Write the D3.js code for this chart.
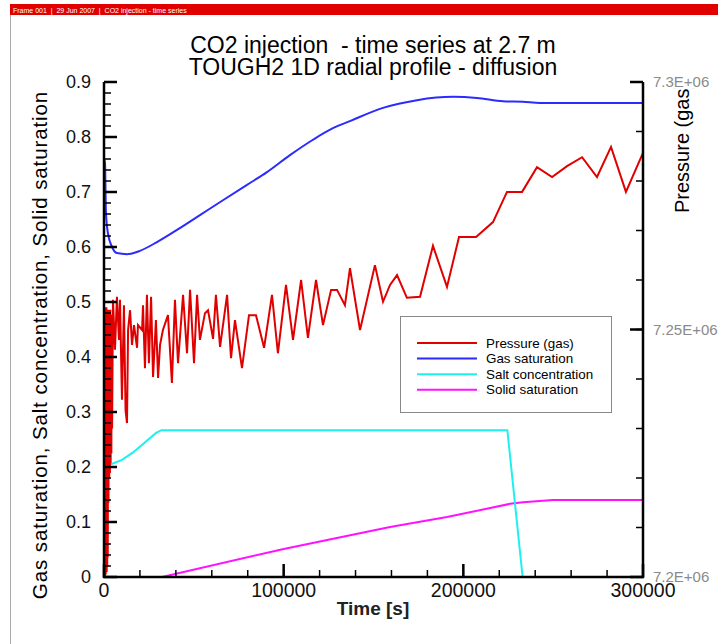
<!DOCTYPE html>
<html>
<head>
<meta charset="UTF-8">
<title>CO2 injection - time series</title>
<script src="https://cdn.jsdelivr.net/npm/d3@7"></script>
<style>
body{margin:0;background:#fff;}
text{font-family:"Liberation Sans",Arial,Helvetica,sans-serif;white-space:pre;}
</style>
</head>
<body>
<script>
// time [s] and pressure [Pa] of the gas phase (right axis)
var pressTime=[0,120,240,360,480,600,720,840,960,1080,1200,1350,1500,1650,1800,1950,2100,2300,2500,2700,2900,3100,3300,3500,3700,3900,4100,4300,4500,
  5000,6100,7200,8350,8900,10000,11100,12000,12800,13400,14500,15600,16700,18400,18900,21200,21700,22800,23900,25000,26200,27300,28900,30100,31200,32800,
  35600,37800,39500,41200,44000,46200,47900,50100,51800,53400,56200,57900,60700,62300,64600,68500,70700,72900,76800,80700,84600,89100,93500,96800,
  101300,105200,109700,113500,118000,121900,126400,129700,134100,136900,142500,150800,155300,159200,163100,168600,175900,183100,190900,197600,
  207100,216500,224300,232700,241000,249400,257700,266100,274400,282200,290500,300000];
var pressVal=[7.2000e6,7.2540e6,7.2000e6,7.2545e6,7.2000e6,7.2540e6,7.2005e6,7.2545e6,7.2005e6,7.2540e6,7.2010e6,7.2545e6,7.2010e6,7.2540e6,7.2020e6,7.2540e6,7.2040e6,7.2535e6,7.2150e6,7.2540e6,7.2200e6,7.2530e6,7.2210e6,7.2540e6,7.2230e6,7.2530e6,7.2250e6,7.2520e6,7.2300e6,
  7.2560e6,7.2459e6,7.2566e6,7.2479e6,7.2560e6,7.2358e6,7.2549e6,7.2337e6,7.2311e6,7.2499e6,7.2539e6,7.2469e6,7.2509e6,7.2463e6,7.2509e6,7.2499e6,7.2549e6,7.2422e6,7.2570e6,7.2432e6,7.2566e6,7.2404e6,7.2519e6,7.2402e6,7.2469e6,7.2499e6,
  7.2529e6,7.2392e6,7.2560e6,7.2432e6,7.2570e6,7.2452e6,7.2580e6,7.2432e6,7.2570e6,7.2479e6,7.2533e6,7.2539e6,7.2481e6,7.2570e6,7.2465e6,7.2570e6,7.2442e6,7.2519e6,7.2422e6,7.2529e6,7.2529e6,7.2463e6,7.2570e6,7.2452e6,
  7.2590e6,7.2479e6,7.2600e6,7.2483e6,7.2600e6,7.2509e6,7.2580e6,7.2580e6,7.2549e6,7.2624e6,7.2499e6,7.2630e6,7.2556e6,7.2590e6,7.2610e6,7.2564e6,7.2566e6,7.2669e6,7.2586e6,7.2687e6,
  7.2687e6,7.2717e6,7.2778e6,7.2778e6,7.2828e6,7.2808e6,7.2830e6,7.2848e6,7.2808e6,7.2869e6,7.2778e6,7.2857e6];

var gasTime=[0,560,1100,2200,4500,7200,12800,20000,29500,40600,53400,66200,79600,90700,103500,116300,127400,136900,155300,174200,194300,207600,222100,233200,242700,300000];
var gasVal=[0.76,0.753,0.662,0.625,0.600,0.589,0.587,0.593,0.609,0.631,0.658,0.685,0.713,0.736,0.767,0.795,0.816,0.829,0.853,0.867,0.873,0.871,0.865,0.864,0.862,0.862];

var saltTime=[0,10000,16000,29000,32000,224500,233000];
var saltVal=[0.200,0.213,0.226,0.262,0.267,0.267,0];

var solidTime=[32300,100000,159200,190900,226000,233200,249900,300000];
var solidVal=[0,0.051,0.091,0.109,0.133,0.136,0.140,0.140];

var xTicks=[0,100000,200000,300000];
var xTickLabels=["0","100000","200000","300000"];
var yTicks=[0,0.1,0.2,0.3,0.4,0.5,0.6,0.7,0.8,0.9];
var yTickLabels=["0","0.1","0.2","0.3","0.4","0.5","0.6","0.7","0.8","0.9"];
var pTicks=[7.2e6,7.25e6,7.3e6];
var pTickLabels=["7.2E+06","7.25E+06","7.3E+06"];

var seriesNames=["Pressure (gas)","Gas saturation","Salt concentration","Solid saturation"];
var seriesColors=["#e00000","#2b2bff","#1ef0f0","#ff12ff"];

var W=721,H=644;
var pL=104,pR=643,pT=82,pB=577;

var svg=d3.select("body").append("svg").attr("width",W).attr("height",H);

// frame header
svg.append("rect").attr("x",10).attr("y",4).attr("width",708).attr("height",11).attr("fill","#e00000");
svg.append("text").attr("x",13).attr("y",12.5).attr("fill","#fff").attr("font-size",7)
  .text("Frame 001  |  29 Jun 2007  |  CO2 injection - time series");
svg.append("rect").attr("x",10).attr("y",15).attr("width",1).attr("height",H-15).attr("fill","#aaa");

var x=d3.scaleLinear().domain([0,300000]).range([pL,pR]);
var y=d3.scaleLinear().domain([0,0.9]).range([pB,pT]);
var yP=d3.scaleLinear().domain([7.2e6,7.3e6]).range([pB,pT]);

// title
svg.append("text").attr("x",373).attr("y",53).attr("text-anchor","middle").attr("font-size",23)
  .text("CO2 injection  - time series at 2.7 m");
svg.append("text").attr("x",373).attr("y",75).attr("text-anchor","middle").attr("font-size",23)
  .text("TOUGH2 1D radial profile - diffusion");

// lines
var lineY=d3.line().x(function(d){return x(d[0]);}).y(function(d){return y(d[1]);});
var lineSmooth=d3.line().curve(d3.curveMonotoneX).x(function(d){return x(d[0]);}).y(function(d){return y(d[1]);});
var lineP=d3.line().x(function(d){return x(d[0]);}).y(function(d){return yP(d[1]);});
var g=svg.append("g");
g.append("path").datum(d3.zip(solidTime,solidVal)).attr("d",lineY).attr("fill","none").attr("stroke",seriesColors[3]).attr("stroke-width",2);
g.append("path").datum(d3.zip(saltTime,saltVal)).attr("d",lineY).attr("fill","none").attr("stroke",seriesColors[2]).attr("stroke-width",2);
g.append("path").datum(d3.zip(gasTime,gasVal)).attr("d",lineSmooth).attr("fill","none").attr("stroke",seriesColors[1]).attr("stroke-width",2);
g.append("path").datum(d3.zip(pressTime,pressVal)).attr("d",lineP).attr("fill","none").attr("stroke",seriesColors[0]).attr("stroke-width",2);

// ticks (inward), drawn as thin filled rects from the scales
function minor(scale,step){
  var d=scale.domain(),out=[];
  var n=Math.round((d[1]-d[0])/step);
  for(var i=0;i<=n;i++) out.push(d[0]+i*step);
  return out;
}
var tg=svg.append("g").attr("fill","#000");
function xTickRects(vals,len,w){
  tg.selectAll(null).data(vals).enter().append("rect")
    .attr("x",function(d){return x(d)-w/2;}).attr("y",pB-len).attr("width",w).attr("height",len);
}
function yTickRects(vals,scale,x0,len,w){
  tg.selectAll(null).data(vals).enter().append("rect")
    .attr("x",len>0?x0:x0+len).attr("y",function(d){return scale(d)-w/2;}).attr("width",Math.abs(len)).attr("height",w);
}
xTickRects(minor(x,20000),7,1.5);
xTickRects(xTicks,13,2.5);
yTickRects(minor(y,0.02),y,pL,7,1.5);
yTickRects(yTicks,y,pL,13,2.5);
yTickRects(minor(yP,0.01e6),yP,pR,-7,1.5);
yTickRects(pTicks,yP,pR,-13,2.5);

// tick labels
var tl=svg.append("g").attr("font-family","Liberation Sans, Arial, sans-serif");
tl.selectAll(".xl").data(xTicks).enter().append("text")
  .attr("x",function(d){return x(d);}).attr("y",pB+20).attr("text-anchor","middle")
  .attr("font-size",19.5).attr("fill","#111").text(function(d,i){return xTickLabels[i];});
tl.selectAll(".yl").data(yTicks).enter().append("text")
  .attr("x",pL-13).attr("y",function(d){return y(d)+6;}).attr("text-anchor","end")
  .attr("font-size",18).attr("fill","#111").text(function(d,i){return yTickLabels[i];});
tl.selectAll(".pl").data(pTicks).enter().append("text")
  .attr("x",pR+10).attr("y",function(d){return yP(d)+5;}).attr("text-anchor","start")
  .attr("font-size",15).attr("fill","#8a8a8a").text(function(d,i){return pTickLabels[i];});

// axis lines
svg.append("path").attr("d","M"+pL+","+pT+"V"+pB+"H"+pR+"V"+pT)
  .attr("fill","none").attr("stroke","#000").attr("stroke-width",2.5);

// axis titles
svg.append("text").attr("x",373).attr("y",615).attr("text-anchor","middle").attr("font-size",19).attr("font-weight","bold").attr("fill","#222")
  .text("Time [s]");
svg.append("text").attr("transform","translate(47,345) rotate(-90)").attr("text-anchor","middle").attr("font-size",20.5).attr("letter-spacing",0.9)
  .text("Gas saturation, Salt concentration, Solid saturation");
svg.append("clipPath").attr("id","rclip").append("rect").attr("x",650).attr("y",88).attr("width",71).attr("height",200);
svg.append("g").attr("clip-path","url(#rclip)").append("text").attr("transform","translate(689,213) rotate(-90)").attr("text-anchor","start").attr("font-size",20)
  .text("Pressure (gas)");

// legend
var lg=svg.append("g");
lg.append("rect").attr("x",400.5).attr("y",316.5).attr("width",211).attr("height",96).attr("fill","#fff").attr("stroke","#888").attr("stroke-width",1);
var items=lg.selectAll(".item").data(seriesNames).enter().append("g").attr("class","item")
  .attr("transform",function(d,i){return "translate(0,"+(343+i*15.6)+")";});
items.append("line").attr("x1",417).attr("x2",477).attr("stroke",function(d,i){return seriesColors[i];}).attr("stroke-width",2);
items.append("text").attr("x",486).attr("y",4.5).attr("font-size",13.4).text(function(d){return d;});
</script>
</body>
</html>
